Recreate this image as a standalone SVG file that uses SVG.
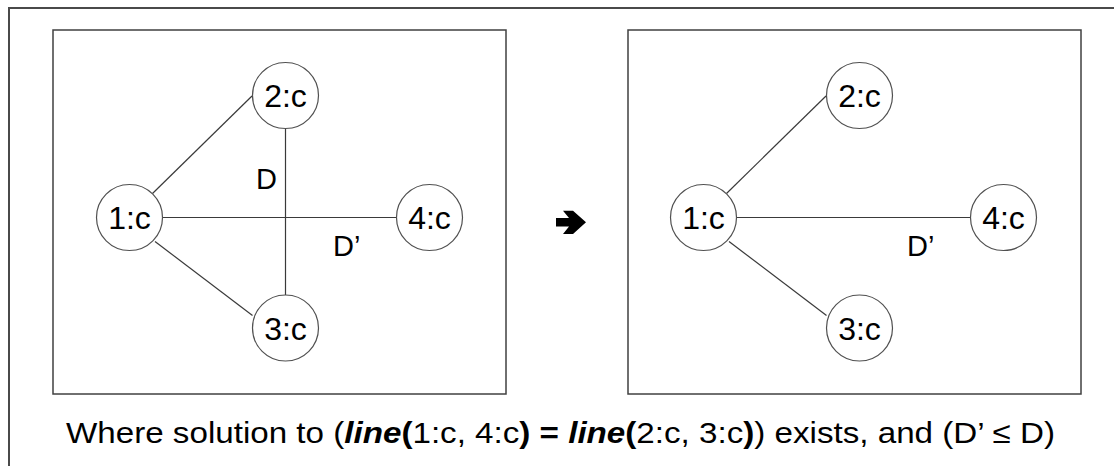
<svg xmlns="http://www.w3.org/2000/svg" width="1114" height="466" viewBox="0 0 1114 466">
<style>
.frame{fill:none;stroke:#4a4a4a;stroke-width:2}
.box{fill:none;stroke:#404040;stroke-width:1.5}
.node circle{fill:#fff;stroke:#505050;stroke-width:1.2}
.node text{font-family:"Liberation Sans",Arial,sans-serif;font-size:32px;text-anchor:middle;fill:#000}
.edges line{stroke:#3a3a3a;stroke-width:1.2}
.lbl{font-family:"Liberation Sans",Arial,sans-serif;font-size:29px;fill:#000}
.cap{font-family:"Liberation Sans",Arial,sans-serif;font-size:30px;fill:#000}
.b{font-weight:bold}
.bi{font-weight:bold;font-style:italic}
</style>
<rect width="1114" height="466" fill="#fff"/>
<path class="frame" d="M9,470 V8 H1120"/>
<rect id="left-panel" class="box" x="53" y="30" width="453" height="364"/>
<rect id="right-panel" class="box" x="628" y="30" width="453" height="364"/>
<g id="connectors" class="edges">
<line x1="152.5" y1="193.5" x2="252" y2="96"/>
<line x1="162" y1="217.5" x2="396" y2="217.5"/>
<line x1="285.5" y1="128" x2="285.5" y2="295"/>
<line x1="155" y1="241.5" x2="252.5" y2="315.5"/>
<line x1="726.5" y1="193.5" x2="826" y2="96"/>
<line x1="736" y1="217.5" x2="970" y2="217.5"/>
<line x1="729" y1="241.5" x2="826.5" y2="315.5"/>
</g>
<g id="L1" class="node"><circle cx="129.5" cy="217.5" r="33"/><text x="129.5" y="229">1:c</text></g>
<g id="L2" class="node"><circle cx="285.5" cy="95.5" r="33"/><text x="285.5" y="107">2:c</text></g>
<g id="L3" class="node"><circle cx="285.5" cy="328" r="33"/><text x="285.5" y="339.5">3:c</text></g>
<g id="L4" class="node"><circle cx="429.5" cy="217.5" r="33"/><text x="429.5" y="229">4:c</text></g>
<g id="R1" class="node"><circle cx="703.5" cy="217.5" r="33"/><text x="703.5" y="229">1:c</text></g>
<g id="R2" class="node"><circle cx="859.5" cy="95.5" r="33"/><text x="859.5" y="107">2:c</text></g>
<g id="R3" class="node"><circle cx="859.5" cy="328" r="33"/><text x="859.5" y="339.5">3:c</text></g>
<g id="R4" class="node"><circle cx="1003.5" cy="217.5" r="33"/><text x="1003.5" y="229">4:c</text></g>
<text class="lbl" x="256" y="189">D</text>
<text class="lbl" x="333" y="256">D’</text>
<text class="lbl" x="907" y="256">D’</text>
<polygon id="arrow" fill="#000" points="556,218 569,218 563,210.7 573,210.7 586,222.3 573,234 563,234 569,226.6 556,226.6"/>
<text class="cap" x="66" y="443" textLength="989" lengthAdjust="spacingAndGlyphs">Where solution to (<tspan class="bi">line</tspan><tspan class="b">(</tspan>1:c, 4:c<tspan class="b">) = </tspan><tspan class="bi">line</tspan><tspan class="b">(</tspan>2:c, 3:c<tspan class="b">)</tspan>) exists, and (D’ ≤ D)</text>
</svg>
